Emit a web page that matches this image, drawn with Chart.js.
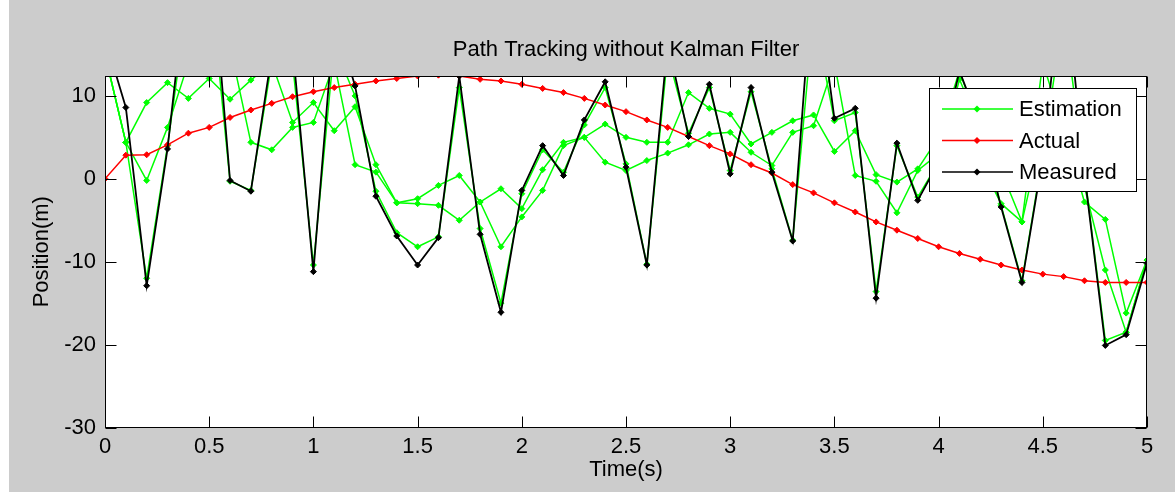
<!DOCTYPE html>
<html>
<head>
<meta charset="utf-8">
<title>Path Tracking without Kalman Filter</title>
<script src="https://cdn.jsdelivr.net/npm/chart.js@4.4.1/dist/chart.umd.min.js"></script>
<style>
  html, body { margin: 0; padding: 0; background: #fff; }
  #wrap { width: 1175px; height: 493px; }
</style>
</head>
<body>
<div id="wrap"><canvas id="trackChart" width="1175" height="493"></canvas></div>
<script>
const chartTitle = 'Path Tracking without Kalman Filter';

// sample times (s)
const timeS = [0, 0.1, 0.2, 0.3, 0.4, 0.5, 0.6, 0.7, 0.8, 0.9,
  1, 1.1, 1.2, 1.3, 1.4, 1.5, 1.6, 1.7, 1.8, 1.9,
  2, 2.1, 2.2, 2.3, 2.4, 2.5, 2.6, 2.7, 2.8, 2.9,
  3, 3.1, 3.2, 3.3, 3.4, 3.5, 3.6, 3.7, 3.8, 3.9,
  4, 4.1, 4.2, 4.3, 4.4, 4.5, 4.6, 4.7, 4.8, 4.9, 5];

// true path (m)
const actualPos = [0, 2.85, 2.9, 4.1, 5.5, 6.2, 7.4, 8.3, 9.1, 9.9,
  10.5, 11.0, 11.4, 11.8, 12.1, 12.4, 12.5, 12.4, 12.0, 11.8,
  11.4, 10.9, 10.4, 9.7, 8.9, 8.1, 7.1, 6.2, 5.1, 4.0,
  3.0, 1.7, 0.7, -0.7, -1.7, -2.9, -4.0, -5.2, -6.2, -7.2,
  -8.2, -9.0, -9.7, -10.4, -11.0, -11.5, -11.8, -12.3, -12.5, -12.5, -12.5];

// noisy measurements (m), values above the axis top are estimated
const measuredPos = [17, 8.6, -12.9, 3.6, 26, 30, -0.2, -1.5, 15, 16,
  -11.2, 19.5, 11.2, -2.1, -6.9, -10.4, -7.1, 12.4, -6.7, -16.1,
  -1.4, 4.0, 0.4, 7.1, 11.7, 1.4, -10.4, 16.5, 5.1, 11.4,
  0.6, 11.0, 0.8, -7.5, 26, 7.3, 8.5, -14.4, 4.3, -2.6,
  2, 13, 6.5, -3.4, -12.5, 2.6, 26, 0.6, -20.1, -18.8, -10.2];

// three estimation traces (all drawn green)
const estimateA = [15, 4.4, -12.0, 4.0, 22, 25, -0.3, -1.4, 14, 14,
  -10.4, 16, 10, -1.5, -6.5, -8.2, -7.0, 11, -6.0, -15.0,
  -1.8, 3.5, 0.8, 6.5, 11, 1.8, -10.3, 15, 5.5, 11,
  1.0, 10.5, 1.2, -7.4, 20, 7.0, 8.0, -13.6, 4.0, -2.2,
  2, 12, 6, -3.2, -12.3, 3, 20, 0.8, -19.5, -18.5, -9.8];
const estimateB = [15, 4.4, 9.2, 11.6, 9.7, 12.1, 9.6, 11.9, 14, 6.8,
  9.2, 5.8, 8.7, 1.7, -2.9, -2.4, -0.8, 0.4, -2.8, -1.2,
  -3.6, 1.1, 4.4, 5.0, 6.6, 5.0, 4.4, 4.4, 10.4, 8.5,
  7.8, 4.2, 5.6, 7.0, 7.7, 3.3, 5.8, 0.5, -0.4, 1.2,
  5, 13, 6, 1.0, -5.2, 14, 6, -2.8, -4.9, -16.2, -9.8];
const estimateC = [15, 4.4, -0.2, 6.2, 14, 16, 16, 4.4, 3.5, 6.2,
  6.8, 14, 1.7, 0.8, -2.9, -3.0, -3.2, -5.0, -2.8, -8.2,
  -4.6, -1.4, 4.0, 5.0, 2.0, 1.0, 2.2, 3.1, 4.1, 5.4,
  5.6, 3.2, 1.6, 5.6, 6.4, 14, 0.4, -0.3, -4.1, 1.0,
  3, 8, 2, -3.0, -5.2, 6, 4, -1, -11, -18.5, -9.8];

const xTicks = [0, 0.5, 1, 1.5, 2, 2.5, 3, 3.5, 4, 4.5, 5];
const yTicks = [-30, -20, -10, 0, 10];

const GREEN = '#00ff00';
const RED = '#ff0000';
const BLACK = '#000000';
const FONT = '"Liberation Sans", Arial, sans-serif';

function toPoints(ys) {
  return timeS.map((t, i) => ({ x: t, y: ys[i] }));
}

function lineSet(label, ys, color, order, width) {
  return {
    label: label,
    data: toPoints(ys),
    borderColor: color,
    backgroundColor: color,
    borderWidth: width,
    pointStyle: 'rectRot',
    pointRadius: 3,
    pointBorderWidth: 1,
    pointBackgroundColor: color,
    pointBorderColor: color,
    tension: 0,
    order: order
  };
}

Chart.defaults.font.family = FONT;
Chart.defaults.font.size = 22;
Chart.defaults.color = '#000000';

// grey figure, white axes background, title centred over the axes
const figureBg = {
  id: 'figureBg',
  beforeDraw(chart) {
    const ctx = chart.ctx;
    const a = chart.chartArea;
    ctx.save();
    ctx.fillStyle = '#ffffff';
    ctx.fillRect(0, 0, chart.width, chart.height);
    ctx.fillStyle = '#cccccc';
    ctx.fillRect(9, 0, chart.width - 9, 492);
    ctx.fillStyle = '#ffffff';
    ctx.fillRect(a.left, a.top, a.right - a.left, a.bottom - a.top);
    ctx.fillStyle = '#000000';
    ctx.font = '22px ' + FONT;
    ctx.textAlign = 'center';
    ctx.textBaseline = 'middle';
    ctx.fillText(chartTitle, (a.left + a.right) / 2, 50);
    ctx.restore();
  }
};

// MATLAB style box with inward ticks on all four sides
const axesBox = {
  id: 'axesBox',
  afterDatasetsDraw(chart) {
    const ctx = chart.ctx;
    const a = chart.chartArea;
    const L = Math.round(a.left) + 0.5, R = Math.round(a.right) - 0.5;
    const T = Math.round(a.top) + 0.5, B = Math.round(a.bottom) - 0.5;
    ctx.save();
    ctx.strokeStyle = '#000';
    ctx.lineWidth = 1;
    ctx.strokeRect(L, T, R - L, B - T);
    ctx.beginPath();
    xTicks.forEach(v => {
      const px = Math.round(chart.scales.x.getPixelForValue(v)) + 0.5;
      ctx.moveTo(px, B); ctx.lineTo(px, B - 11);
      ctx.moveTo(px, T); ctx.lineTo(px, T + 11);
    });
    yTicks.forEach(v => {
      const py = Math.round(chart.scales.y.getPixelForValue(v)) + 0.5;
      ctx.moveTo(L, py); ctx.lineTo(L + 11, py);
      ctx.moveTo(R, py); ctx.lineTo(R - 11, py);
    });
    ctx.stroke();
    ctx.restore();
  }
};

// boxed legend in the upper right of the axes
const boxLegend = {
  id: 'boxLegend',
  afterDraw(chart) {
    const ctx = chart.ctx;
    const entries = ['Estimation', 'Actual', 'Measured']
      .map(n => chart.data.datasets.find(ds => ds.label === n));
    ctx.save();
    ctx.fillStyle = '#ffffff';
    ctx.fillRect(929, 88, 208, 104);
    ctx.strokeStyle = '#000';
    ctx.lineWidth = 1;
    ctx.strokeRect(929.5, 88.5, 207, 103);
    ctx.font = '22px ' + FONT;
    ctx.textBaseline = 'middle';
    entries.forEach((ds, i) => {
      const y = 109 + i * 31.5;
      ctx.strokeStyle = ds.borderColor;
      ctx.lineWidth = 1.5;
      ctx.beginPath();
      ctx.moveTo(942, y); ctx.lineTo(1013, y);
      ctx.stroke();
      ctx.fillStyle = ds.borderColor;
      ctx.beginPath();
      ctx.moveTo(977, y - 3.5); ctx.lineTo(980.5, y); ctx.lineTo(977, y + 3.5); ctx.lineTo(973.5, y);
      ctx.closePath();
      ctx.fill();
      ctx.fillStyle = '#000000';
      ctx.fillText(ds.label, 1019, y + 1);
    });
    ctx.restore();
  }
};

new Chart(document.getElementById('trackChart'), {
  type: 'line',
  data: {
    datasets: [
      lineSet('Measured', measuredPos, BLACK, 0, 1.8),
      lineSet('Actual', actualPos, RED, 1, 1.5),
      lineSet('Estimation', estimateA, GREEN, 2, 1.5),
      lineSet('Estimation', estimateB, GREEN, 3, 1.5),
      lineSet('Estimation', estimateC, GREEN, 4, 1.5)
    ]
  },
  options: {
    responsive: false,
    animation: false,
    layout: { padding: { left: 0, right: 28, top: 76, bottom: 0 } },
    plugins: {
      legend: { display: false },
      tooltip: { enabled: false },
      title: { display: false }
    },
    scales: {
      x: {
        type: 'linear',
        min: 0,
        max: 5,
        grid: { display: false, drawTicks: false },
        border: { display: false },
        ticks: { stepSize: 0.5, padding: 6, maxRotation: 0, callback: v => String(v) },
        title: { display: true, text: 'Time(s)', padding: { top: 0, bottom: 10 } },
        afterFit(scale) { scale.height = 65.5; }
      },
      y: {
        type: 'linear',
        min: -30,
        max: 12.4,
        grid: { display: false, drawTicks: false },
        border: { display: false },
        ticks: { stepSize: 10, padding: 9, includeBounds: false },
        title: { display: true, text: 'Position(m)', padding: { top: 29, bottom: 0 } },
        afterFit(scale) { scale.width = 105; }
      }
    }
  },
  plugins: [figureBg, axesBox, boxLegend]
});
</script>
</body>
</html>
